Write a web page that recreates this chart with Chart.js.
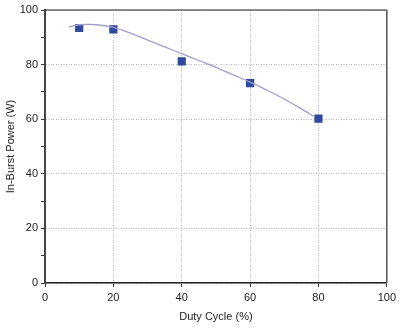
<!DOCTYPE html>
<html>
<head>
<meta charset="utf-8">
<script src="https://cdn.jsdelivr.net/npm/chart.js@4"></script>
<style>
  html, body { margin: 0; padding: 0; background: #fff; }
  #wrap { width: 400px; height: 328px; position: relative; }
</style>
</head>
<body>
<div id="wrap"><canvas id="myChart"></canvas></div>
<script>
// measured points
const dutyCycle = [10, 20, 40, 60, 80];
const burstPower = [93.4, 92.9, 81.2, 73.2, 60.2];

// fitted curve
const fitX = [7, 10, 15, 20, 25, 30, 35, 40, 45, 50, 55, 60, 65, 70, 75, 79];
const fitY = [93.8, 94.6, 94.6, 93.6, 91.5, 89.0, 86.5, 84.0, 81.5, 79.0, 76.3, 73.6, 70.6, 67.4, 63.8, 60.8];

const xTicks = [0, 20, 40, 60, 80, 100];
const yTicks = [0, 20, 40, 60, 80, 100];

const toPts = (xs, ys) => xs.map((x, i) => ({ x: x, y: ys[i] }));

// frame on top and right
const framePlugin = {
    id: 'frame',
    afterDraw(chart) {
        const a = chart.chartArea;
        const ctx = chart.ctx;
        ctx.save();
        ctx.strokeStyle = '#222';
        ctx.lineWidth = 1.2;
        ctx.beginPath();
        ctx.moveTo(a.left, a.top);
        ctx.lineTo(a.right, a.top);
        ctx.stroke();
        ctx.strokeStyle = '#555';
        ctx.lineWidth = 1.5;
        ctx.beginPath();
        ctx.moveTo(a.right, a.top);
        ctx.lineTo(a.right, a.bottom);
        ctx.stroke();
        ctx.restore();
    }
};

const ctx = document.getElementById('myChart').getContext('2d');
const myChart = new Chart(ctx, {
    type: 'scatter',
    data: {
        datasets: [
            {
                label: 'fit',
                data: toPts(fitX, fitY),
                showLine: true,
                borderColor: '#a09fcb',
                borderWidth: 1.3,
                pointRadius: 0,
                tension: 0.3,
                fill: false
            },
            {
                label: 'measured',
                data: toPts(dutyCycle, burstPower),
                pointStyle: 'rect',
                pointRadius: 5.8,
                backgroundColor: '#2f4a9c',
                borderColor: '#2f4a9c',
                borderWidth: 0
            }
        ]
    },
    plugins: [framePlugin],
    options: {
        responsive: true,
        maintainAspectRatio: false,
        animation: false,
        layout: { padding: { top: 10, right: 13, left: 0, bottom: 0 } },
        plugins: {
            legend: { display: false },
            tooltip: { enabled: false }
        },
        scales: {
            x: {
                type: 'linear',
                min: 0,
                max: 100,
                afterBuildTicks: (s) => { s.ticks = xTicks.map(v => ({ value: v })); },
                afterFit: (s) => { s.height = 45; },
                ticks: {
                    color: '#222',
                    font: { family: 'Liberation Sans', size: 11 },
                    padding: 4
                },
                grid: {
                    color: '#b4b4be',
                    lineWidth: 1,
                    tickColor: '#333',
                    tickLength: 4
                },
                border: { color: '#222', width: 1.5, dash: [1, 1.5] },
                title: {
                    display: true,
                    text: 'Duty Cycle (%)',
                    color: '#222',
                    font: { family: 'Liberation Sans', size: 11 },
                    padding: { top: 6 }
                }
            },
            y: {
                type: 'linear',
                min: 0,
                max: 100,
                afterBuildTicks: (s) => {
                    const t = [];
                    for (let i = 0; i < yTicks.length; i++) {
                        t.push({ value: yTicks[i] });
                        if (i < yTicks.length - 1) t.push({ value: (yTicks[i] + yTicks[i + 1]) / 2 });
                    }
                    s.ticks = t;
                },
                afterFit: (s) => { s.width = 45; },
                ticks: {
                    color: '#222',
                    font: { family: 'Liberation Sans', size: 11 },
                    padding: 3,
                    callback: (v) => (yTicks.includes(v) ? v : '')
                },
                grid: {
                    color: (c) => (c.tick && yTicks.includes(c.tick.value) ? '#b4b4be' : 'rgba(0,0,0,0)'),
                    lineWidth: 1,
                    tickColor: '#333',
                    tickLength: 4
                },
                border: { color: '#444', width: 2, dash: [1, 1.5] },
                title: {
                    display: true,
                    text: 'In-Burst Power (W)',
                    color: '#222',
                    font: { family: 'Liberation Sans', size: 11 },
                    padding: { bottom: 2 }
                }
            }
        }
    }
});
</script>
</body>
</html>
